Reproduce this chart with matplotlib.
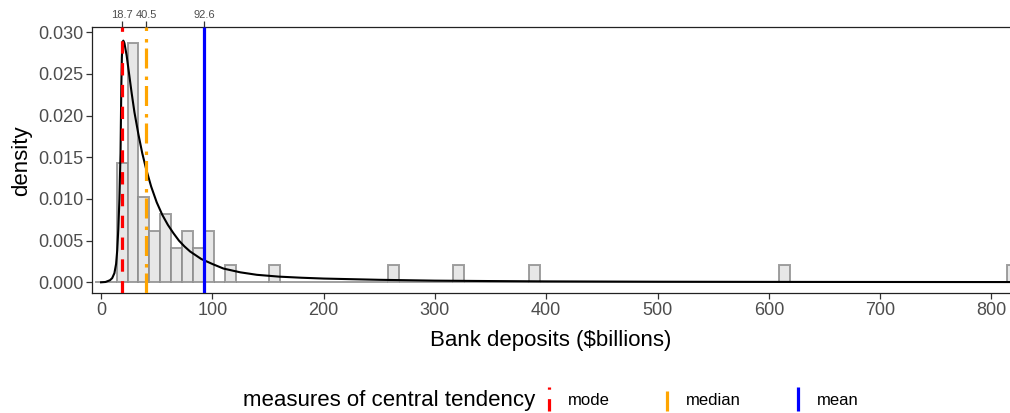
import numpy as np
import matplotlib
matplotlib.use("Agg")
import matplotlib.pyplot as plt
from matplotlib.lines import Line2D
from matplotlib.legend_handler import HandlerBase

plt.rcParams["font.family"] = ["Liberation Sans", "DejaVu Sans"]
plt.rcParams["lines.scale_dashes"] = False

# histogram: bin index -> count (bins start at BIN_START, width BIN_WIDTH)
BIN_START = 14.1
BIN_WIDTH = 9.75
bin_index = [0, 1, 2, 3, 4, 5, 6, 7, 8, 10, 14, 25, 31, 38, 61, 82]
bin_count = [7, 14, 5, 3, 4, 2, 3, 2, 3, 1, 1, 1, 1, 1, 1, 1]

# fitted density curve
curve_x = [0, 4, 8, 10, 12, 13.5, 14.5, 15.5, 16.5, 17.5, 18.2, 18.7, 19.3,
           20, 21, 23, 25, 27.5, 30, 33.5, 37, 40.5, 45, 50, 55, 60, 65, 70,
           75, 80, 90, 100, 110, 125, 140, 160, 180, 200, 250, 300, 350, 400,
           500, 600, 700, 820]
curve_y = [0.0, 0.00004, 0.00025, 0.0005, 0.0011, 0.0022, 0.0038, 0.0064,
           0.0100, 0.0155, 0.0235, 0.0270, 0.0288, 0.0290, 0.0287, 0.0272,
           0.0252, 0.0227, 0.0204, 0.0178, 0.0155, 0.0136, 0.0115, 0.0096,
           0.0081, 0.0069, 0.0059, 0.0050, 0.0043, 0.0037, 0.0028, 0.0022,
           0.00165, 0.0012, 0.0009, 0.00068, 0.00055, 0.00045, 0.0003, 0.0002,
           0.00015, 0.00011, 0.00007, 0.00005, 0.00004, 0.00003]

# central tendency
stat_names = ["mode", "median", "mean"]
stat_values = [18.7, 40.5, 92.6]
stat_colors = ["#FF0000", "#FFA500", "#0000FF"]
stat_dashes = [(8.9, 6.8), (14.4, 4.3, 2.5, 5.8), None]


class VLineHandler(HandlerBase):
    """Legend key drawn as a short vertical line, like a vline key."""
    def create_artists(self, legend, orig_handle, xdescent, ydescent,
                       width, height, fontsize, trans):
        x = width / 2 - xdescent
        y0 = -ydescent - 0.55 * height
        y1 = -ydescent + 1.55 * height
        line = Line2D([x, x], [y0, y1], color=orig_handle.get_color(),
                      linewidth=orig_handle.get_linewidth(),
                      solid_capstyle="butt", dash_capstyle="butt",
                      transform=trans)
        d = getattr(orig_handle, "key_dashes", None)
        if d is not None:
            line.set_dashes(d)
        return [line]


fig = plt.figure(figsize=(10.10, 4.13), dpi=100)
ax = fig.add_axes([0.0908, 0.2898, 0.9092, 0.6441])

# all bins from -2 up to the last one, empty ones drawn flat
n = sum(bin_count)
all_idx = np.arange(-2, max(bin_index) + 1)
counts = np.zeros(len(all_idx))
for i, c in zip(bin_index, bin_count):
    counts[i + 2] = c
dens = counts / (n * BIN_WIDTH)
lefts = BIN_START + all_idx * BIN_WIDTH
ax.bar(lefts, dens, width=BIN_WIDTH, align="edge", color="#E3E3E3",
       edgecolor="#8E8E8E", linewidth=1.4, alpha=0.85, zorder=1)

ax.plot(curve_x, curve_y, color="black", linewidth=1.5, zorder=3)

proxies = []
for name, v, col, d in zip(stat_names, stat_values, stat_colors, stat_dashes):
    ln = ax.axvline(v, color=col, linewidth=2.3, zorder=4, solid_capstyle="butt")
    if d is not None:
        ln.set_dashes(d)
        ln.set_dash_capstyle("butt")
    p = Line2D([], [], color=col, linewidth=2.3)
    p.key_dashes = d
    proxies.append(p)

ax.set_xlim(-8.4, 816.7)
ax.set_ylim(-0.00132, 0.0306)
ax.set_xticks(np.arange(0, 801, 100))
ax.set_yticks(np.arange(0, 0.0301, 0.005))
ax.yaxis.set_major_formatter(matplotlib.ticker.FormatStrFormatter("%.3f"))
ax.tick_params(axis="both", labelsize=13, colors="#333333", labelcolor="#4D4D4D",
               length=4, width=0.9, pad=2)
ax.spines["right"].set_visible(False)
for s in ["left", "bottom", "top"]:
    ax.spines[s].set_color("#222222")
    ax.spines[s].set_linewidth(0.9)

ax.set_xlabel("Bank deposits ($billions)", fontsize=16, labelpad=8)
ax.set_ylabel("density", fontsize=16, labelpad=4)

top = ax.secondary_xaxis("top")
top.set_xticks(stat_values)
top.set_xticklabels([f"{v:.1f}" for v in stat_values])
top.tick_params(labelsize=8, colors="#333333", labelcolor="#4D4D4D", length=4,
                width=0.9, pad=1)
top.spines["top"].set_visible(False)

fig.text(0.2406, 0.031, "measures of central tendency", fontsize=16,
         ha="left", va="center")
fig.legend(proxies, stat_names, handler_map={Line2D: VLineHandler()},
           loc="center left", bbox_to_anchor=(0.524, 0.031), ncol=3,
           frameon=False, fontsize=12, handlelength=0.6, handletextpad=0.85,
           columnspacing=3.1)

fig.savefig("out.png", dpi=100)
